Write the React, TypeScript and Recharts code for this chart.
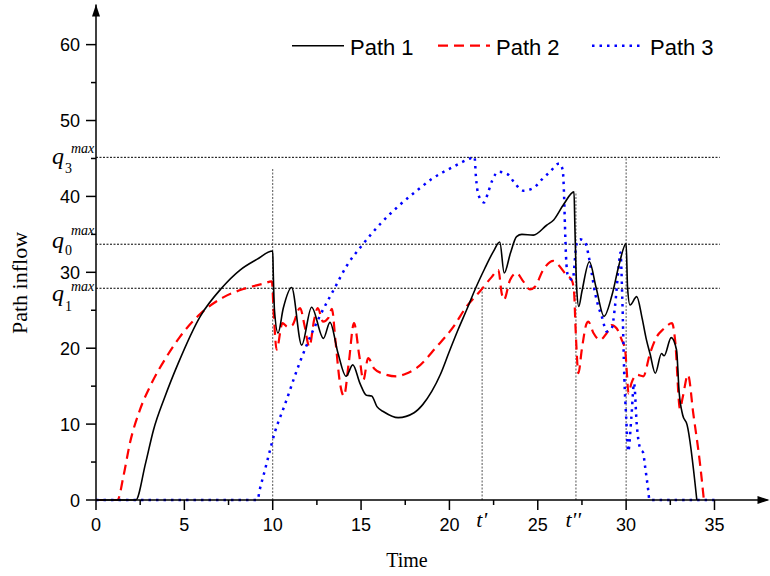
import React from 'react';
import { LineChart, Line, XAxis, YAxis, ReferenceLine, ReferenceDot, Customized } from 'recharts';

// [time, inflow] pairs
const path1 = [
  [0, 0], [2.25, 0], [2.8, 4.8], [3.25, 9.2], [3.9, 13.6], [4.65, 18.0], [5.9, 24.2], [7.1, 27.9],
  [8.15, 30.3], [9.1, 31.7], [10.0, 32.8], [10.03, 30.0], [10.1, 25.0], [10.3, 22.0], [10.6, 25.3],
  [11.07, 28.0], [11.64, 20.4], [12.2, 25.4], [12.87, 21.3], [13.24, 23.4], [13.7, 19.3], [14.15, 16.3],
  [14.53, 17.8], [14.95, 15.3], [15.3, 13.8], [15.6, 13.7], [15.9, 12.3], [16.3, 11.6], [17.1, 10.85],
  [18.0, 11.5], [18.5, 12.6], [19.0, 14.3], [19.5, 16.6], [20.0, 19.6], [20.5, 22.5], [21.0, 25.2],
  [21.5, 28.0], [22.0, 30.5], [22.5, 32.8], [22.85, 34.0], [23.1, 29.9], [23.45, 32.5], [23.8, 34.7],
  [24.1, 35.0], [24.75, 34.9], [25.5, 36.2], [25.9, 36.9], [26.45, 38.9], [27.05, 40.6], [27.1, 36.0],
  [27.2, 28.0], [27.32, 25.5], [27.5, 27.5], [27.92, 31.4], [28.3, 28.0], [28.75, 24.2], [29.2, 27.0],
  [29.6, 31.0], [30.0, 33.8], [30.08, 28.0], [30.22, 25.7], [30.6, 26.8], [30.9, 24.0], [31.15, 21.1],
  [31.35, 19.3], [31.65, 16.7], [32.0, 19.3], [32.15, 19.0], [32.55, 21.4], [32.85, 19.8], [33.0, 14.2],
  [33.2, 11.2], [33.45, 9.9], [34.0, 0],
];

const path2 = [
  [0, 0], [1.22, 0], [1.55, 3.1], [1.92, 7.5], [2.49, 11.9], [3.15, 15.4], [4.0, 18.9], [4.75, 21.5],
  [5.89, 24.5], [7.2, 26.7], [8.34, 27.8], [9.47, 28.5], [9.95, 28.8], [10.06, 24.5], [10.22, 19.8],
  [10.55, 23.3], [10.85, 22.8], [11.1, 23.0], [11.55, 25.3], [11.8, 23.0], [12.07, 20.2], [12.35, 23.8],
  [12.55, 25.3], [12.85, 23.5], [13.15, 24.0], [13.35, 25.2], [13.55, 21.0], [13.8, 15.5], [14.03, 13.7],
  [14.3, 18.0], [14.6, 23.3], [14.9, 19.0], [15.13, 15.8], [15.4, 18.7], [15.75, 17.3], [16.3, 16.6],
  [17.0, 16.3], [17.5, 16.6], [18.15, 17.4], [19.28, 20.2], [20.22, 22.8], [20.97, 25.5], [21.73, 27.5],
  [22.4, 29.4], [22.77, 30.3], [22.96, 27.2], [23.09, 26.4], [23.43, 29.0], [23.8, 29.9], [24.18, 28.8],
  [24.56, 27.75], [24.84, 28.1], [25.3, 30.3], [25.88, 31.5], [26.16, 31.0], [26.64, 29.6], [26.92, 29.0],
  [27.05, 27.5], [27.15, 22.0], [27.3, 16.7], [27.49, 19.8], [27.77, 23.3], [27.86, 23.5], [28.15, 22.0],
  [28.52, 21.1], [28.9, 22.0], [29.18, 23.05], [29.47, 22.6], [29.75, 21.1], [29.94, 19.8], [30.05, 16.5],
  [30.13, 14.05], [30.3, 15.4], [30.6, 16.5], [30.97, 16.3], [31.35, 19.3], [31.73, 21.5], [32.1, 22.5],
  [32.6, 23.3], [32.77, 21.1], [33.05, 12.0], [33.2, 13.5], [33.5, 16.5], [33.8, 11.4], [34.2, 4.4],
  [34.4, 0],
];

const path3 = [
  [0, 0], [9.13, 0], [9.28, 1.5], [9.56, 3.95], [9.85, 6.6], [10.13, 9.0], [10.32, 10.3], [10.6, 12.0],
  [10.98, 14.5], [11.17, 15.8], [11.92, 20.4], [12.68, 24.3], [13.5, 27.9], [14.2, 30.9], [15.0, 33.4],
  [16.1, 36.4], [17.2, 38.9], [18.34, 41.1], [19.0, 42.3], [19.56, 43.1], [20.13, 43.8], [20.7, 44.5],
  [21.17, 45.0], [21.42, 45.2], [21.5, 42.6], [21.64, 40.2], [21.96, 39.2], [22.2, 40.6], [22.44, 42.2],
  [22.77, 43.25], [23.28, 42.95], [23.71, 41.7], [24.18, 40.75], [24.75, 41.1], [25.22, 42.2],
  [25.69, 43.25], [26.22, 44.35], [26.41, 43.5], [26.49, 40.0], [26.54, 36.0], [26.6, 32.0], [26.7, 29.6],
  [26.97, 29.0], [27.2, 33.8], [27.39, 34.35], [27.67, 34.0], [27.86, 32.4], [28.05, 29.9], [28.24, 27.3],
  [28.43, 25.5], [28.62, 24.2], [28.9, 22.2], [29.18, 22.6], [29.37, 25.5], [29.56, 30.3], [29.68, 32.6],
  [29.78, 26.8], [29.9, 16.0], [30.0, 11.0], [30.12, 6.4], [30.3, 11.0], [30.45, 15.4], [30.6, 10.0],
  [30.72, 7.5], [30.85, 6.6], [30.97, 6.2], [31.05, 4.8], [31.15, 3.1], [31.25, 1.3], [31.32, 0], [35, 0],
];

const xTicks = [0, 2.5, 5, 7.5, 10, 12.5, 15, 17.5, 20, 22.5, 25, 27.5, 30, 32.5, 35];
const yTicks = [0, 5, 10, 15, 20, 25, 30, 35, 40, 45, 50, 55, 60];

// capacity levels (q max) and marked times
const qLevels = [
  { sub: '3', value: 45.15, dq: 7, dsub: 16, dmax: -4 },
  { sub: '0', value: 33.7, dq: 4, dsub: 11, dmax: -9 },
  { sub: '1', value: 27.9, dq: 13, dsub: 23, dmax: 3 },
];
const timeMarks = [
  { t: 10, top: 43.8, label: '' },
  { t: 21.85, top: 27.9, label: "t'" },
  { t: 27.16, top: 40.6, label: "t''" },
  { t: 30, top: 45.15, label: '' },
];

const legendItems = [
  { name: 'Path 1', color: '#000', dash: undefined, width: 1.6, x: 292 },
  { name: 'Path 2', color: '#ff0000', dash: '10 6', width: 2.2, x: 438 },
  { name: 'Path 3', color: '#0000ff', dash: '2.5 5', width: 2.5, x: 592 },
];

const SANS = '"Liberation Sans", Arial, sans-serif';
const SERIF = '"Liberation Serif", "Times New Roman", serif';

const toPoints = (arr: number[][]) => arr.map(([t, v]) => ({ t, v }));

const XTick = (props: any) => {
  const { x, y, payload } = props;
  const v = payload.value;
  const major = v % 5 === 0;
  return (
    <g>
      <line x1={x} y1={y} x2={x} y2={y + (major ? 10 : 5)} stroke="#000" strokeWidth={1.5} />
      {major && (
        <text x={x} y={y + 31} textAnchor="middle" fontFamily={SANS} fontSize={18} fill="#000">{v}</text>
      )}
    </g>
  );
};

const YTick = (props: any) => {
  const { x, y, payload } = props;
  const v = payload.value;
  const major = v % 10 === 0;
  return (
    <g>
      <line x1={x} y1={y} x2={x - (major ? 10 : 5)} y2={y} stroke="#000" strokeWidth={1.5} />
      {major && (
        <text x={x - 16} y={y + 6.5} textAnchor="end" fontFamily={SANS} fontSize={18} fill="#000">{v}</text>
      )}
    </g>
  );
};

const Overlay = () => (
  <g>
    {legendItems.map((it) => (
      <g key={it.name}>
        <line x1={it.x} y1={45.7} x2={it.x + 52} y2={45.7} stroke={it.color} strokeWidth={it.width} strokeDasharray={it.dash} />
        <text x={it.x + 58} y={55} fontFamily={SANS} fontSize={22} fill="#000">{it.name}</text>
      </g>
    ))}
    <text x={407} y={567} textAnchor="middle" fontFamily={SERIF} fontSize={20} fill="#000">Time</text>
    <text x={27} y={283} textAnchor="middle" fontFamily={SERIF} fontSize={22} fill="#000" transform="rotate(-90 27 283)">Path inflow</text>
  </g>
);

export default function App() {
  return (
    <div style={{ position: 'absolute', left: 0, top: 0, width: 770, height: 576, background: '#fff' }}>
      <LineChart width={770} height={576} margin={{ top: 4.4, right: 2.5, bottom: 0, left: 0 }}>
        <XAxis
          type="number" dataKey="t" domain={[0, 38]} ticks={xTicks} interval={0}
          height={76} tickSize={0} tickMargin={0} tickLine={false}
          axisLine={{ stroke: '#000', strokeWidth: 1.5 }} tick={<XTick />}
        />
        <YAxis
          type="number" dataKey="v" domain={[0, 65.3]} ticks={yTicks} interval={0}
          width={96} tickSize={0} tickMargin={0} tickLine={false}
          axisLine={{ stroke: '#000', strokeWidth: 1.5 }} tick={<YTick />}
        />
        {qLevels.map((q) => (
          <ReferenceLine
            key={q.sub}
            segment={[{ x: 0, y: q.value }, { x: 35.3, y: q.value }]}
            stroke="#000" strokeWidth={1} strokeDasharray="2 1.5"
            label={(p: any) => {
              const vb = p.viewBox || {};
              const x0 = vb.x, y0 = vb.y;
              return (
                <g>
                  <text x={x0 - 44} y={y0 + q.dq} fontFamily={SERIF} fontStyle="italic" fontSize={24} fill="#000">q</text>
                  <text x={x0 - 31} y={y0 + q.dsub} fontFamily={SERIF} fontSize={14} fill="#000">{q.sub}</text>
                  <text x={x0 - 25} y={y0 + q.dmax} fontFamily={SERIF} fontStyle="italic" fontSize={14} fill="#000">max</text>
                </g>
              );
            }}
          />
        ))}
        {timeMarks.map((m) => (
          <ReferenceLine
            key={m.t}
            segment={[{ x: m.t, y: 0 }, { x: m.t, y: m.top }]}
            stroke="#555" strokeWidth={1} strokeDasharray="2 1.5"
            label={(p: any) => {
              const vb = p.viewBox || {};
              if (!m.label) return null;
              return (
                <text x={vb.x + 5} y={vb.y + vb.height + 27} textAnchor="end" fontFamily={SERIF} fontStyle="italic" fontSize={22} fill="#000">{m.label}</text>
              );
            }}
          />
        ))}
        <Line data={toPoints(path2)} dataKey="v" type="monotone" stroke="#ff0000" strokeWidth={2.2} strokeDasharray="10 6" dot={false} activeDot={false} isAnimationActive={false} />
        <Line data={toPoints(path3)} dataKey="v" type="monotone" stroke="#0000ff" strokeWidth={2.5} strokeDasharray="2.5 5" dot={false} activeDot={false} isAnimationActive={false} />
        <Line data={toPoints(path1)} dataKey="v" type="monotone" stroke="#000" strokeWidth={1.6} dot={false} activeDot={false} isAnimationActive={false} />
        <ReferenceDot x={38} y={0} r={0} ifOverflow="visible"
          shape={(p: any) => <path d={`M${p.cx + 2},${p.cy} L${p.cx - 10},${p.cy - 4} L${p.cx - 10},${p.cy + 4} Z`} fill="#000" />} />
        <ReferenceDot x={0} y={65.3} r={0} ifOverflow="visible"
          shape={(p: any) => <path d={`M${p.cx},${p.cy} L${p.cx - 4},${p.cy + 12} L${p.cx + 4},${p.cy + 12} Z`} fill="#000" />} />
        <Customized component={Overlay} />
      </LineChart>
    </div>
  );
}
